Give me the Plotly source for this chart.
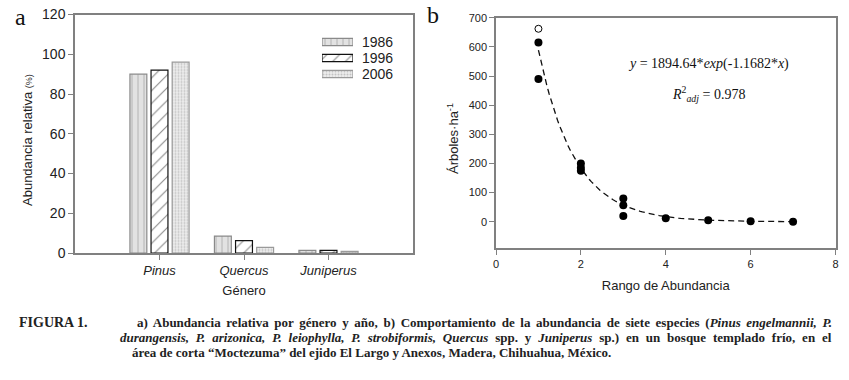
import numpy as np
import plotly.graph_objects as go

W, H = 849, 380

# ---- Panel a data ----
genera = ["Pinus", "Quercus", "Juniperus"]
years = ["1986", "1996", "2006"]
abund_1986 = [90.0, 8.5, 1.3]
abund_1996 = [92.0, 6.2, 1.3]
abund_2006 = [96.0, 2.8, 0.8]

# ---- Panel b data ----
rank_filled = [1, 1, 2, 2, 2, 3, 3, 3, 4, 5, 6, 7]
trees_filled = [615, 490, 200, 185, 175, 80, 57, 20, 12, 5, 2, 0]
rank_open = [1]
trees_open = [662]
fit_A = 1894.64
fit_B = -1.1682
fit_x = np.linspace(1, 7, 121)
fit_y = fit_A * np.exp(fit_B * fit_x)

def px(x):
    return x / W

def py(y):
    return 1 - y / H

SANS = "Liberation Sans, Arial, sans-serif"
SERIF = "Liberation Serif, Times New Roman, serif"
AXC = "#808080"

fig = go.Figure()

bar_styles = [
    dict(shape="|", fg="#8a8a8a", bg="#e2e2e2", size=6, sol=0.18, line="#8a8a8a"),
    dict(shape="/", fg="#111111", bg="#ffffff", size=9, sol=0.12, line="#111111"),
    dict(shape=".", fg="#9a9a9a", bg="#ececec", size=3, sol=0.35, line="#9a9a9a"),
]

def marker_for(st):
    return dict(color=st["bg"],
                line=dict(color=st["line"], width=1.2),
                pattern=dict(shape=st["shape"], fgcolor=st["fg"], bgcolor=st["bg"],
                             size=st["size"], solidity=st["sol"], fillmode="overlay"))

for yr, vals, st in zip(years, [abund_1986, abund_1996, abund_2006], bar_styles):
    fig.add_trace(go.Bar(
        x=genera, y=vals, name=yr, xaxis="x", yaxis="y", showlegend=False,
        marker=marker_for(st),
    ))

# legend swatches (wide rectangles, like the original legend)
for i, (yr, st) in enumerate(zip(years, bar_styles)):
    fig.add_trace(go.Bar(
        x=[1], y=[i], base=[0], orientation="h", xaxis="x3", yaxis="y3", showlegend=False,
        width=[0.46], offset=[-0.23], marker=marker_for(st), hoverinfo="skip", name=yr,
    ))

fig.add_trace(go.Scatter(
    x=fit_x, y=fit_y, mode="lines", xaxis="x2", yaxis="y2", showlegend=False,
    line=dict(color="#111111", width=1.3, dash="6px,4px"),
))
fig.add_trace(go.Scatter(
    x=rank_filled, y=trees_filled, mode="markers", xaxis="x2", yaxis="y2", showlegend=False,
    marker=dict(color="#000000", size=8, line=dict(color="#000000", width=0)),
))
fig.add_trace(go.Scatter(
    x=rank_open, y=trees_open, mode="markers", xaxis="x2", yaxis="y2", showlegend=False,
    marker=dict(color="#ffffff", size=7, line=dict(color="#000000", width=1)),
))

axis_common = dict(showline=True, mirror=True, linecolor=AXC, linewidth=1.5,
                   ticks="outside", ticklen=5, tickcolor=AXC, tickwidth=1.2,
                   showgrid=False, zeroline=False, automargin=False)

fig.update_layout(
    template="none",
    width=W, height=H,
    margin=dict(l=0, r=0, t=0, b=0, autoexpand=False),
    paper_bgcolor="white", plot_bgcolor="white",
    font=dict(family=SANS, color="#222222"),
    barmode="group", bargap=0.25, bargroupgap=0.2,
    showlegend=False,
    xaxis=dict(domain=[px(75), px(413)], type="category", range=[-1, 3],
               tickmode="array", tickvals=genera,
               ticktext=["<i>%s</i>" % g for g in genera],
               tickfont=dict(size=13), anchor="y",
               title=dict(text="Género", font=dict(size=13), standoff=9),
               **axis_common),
    yaxis=dict(domain=[py(253), py(14.5)], range=[0, 120], dtick=20,
               tickfont=dict(size=14), anchor="x",
               **axis_common),
    xaxis2=dict(domain=[px(496), px(835.5)], range=[0, 8], dtick=2,
                tickfont=dict(size=11), anchor="y2",
                title=dict(text="Rango de Abundancia", font=dict(size=13), standoff=12),
                **axis_common),
    yaxis2=dict(domain=[py(248), py(17.7)], range=[-90, 700], dtick=100,
                tickfont=dict(size=11), anchor="x2",
                **axis_common),
    xaxis3=dict(domain=[px(322), px(353)], range=[0, 1], visible=False,
                fixedrange=True, anchor="y3"),
    yaxis3=dict(domain=[py(82), py(34)], range=[2.5, -0.5], visible=False,
                fixedrange=True, anchor="x3"),
)

CAP = 13
annotations = [
    dict(x=px(20), y=py(17), text="a", font=dict(family=SERIF, size=24, color="#111111")),
    dict(x=px(433), y=py(15), text="b", font=dict(family=SERIF, size=24, color="#111111")),
    dict(x=px(27), y=py(140), textangle=-90,
         text="Abundancia relativa <span style='font-size:9px'>(%)</span>",
         font=dict(family=SANS, size=13, color="#222222")),
    dict(x=px(453), y=py(139), textangle=-90,
         text="Árboles·ha<sup>-1</sup>",
         font=dict(family=SANS, size=13, color="#222222")),
    dict(x=px(708), y=py(64),
         text="<i>y</i> = 1894.64*<i>exp</i>(-1.1682*<i>x</i>)",
         font=dict(family=SERIF, size=14, color="#111111")),
    dict(x=px(708), y=py(94),
         text="<i>R</i><sup>2</sup><sub><i>adj</i></sub> = 0.978",
         font=dict(family=SERIF, size=14, color="#111111")),
    dict(x=px(17), y=py(322), xanchor="left",
         text="<b>FIGURA 1.</b>",
         font=dict(family=SERIF, size=14, color="#222222")),
    dict(x=px(834), y=py(322), xanchor="right",
         text="<span style='word-spacing:2.4px'><b>a) Abundancia relativa por género y año, b) Comportamiento de la abundancia de siete especies (<i>Pinus engelmannii, P.</i></b></span>",
         font=dict(family=SERIF, size=CAP, color="#222222")),
    dict(x=px(834), y=py(337), xanchor="right",
         text="<span style='word-spacing:3.6px'><b><i>durangensis, P. arizonica, P. leiophylla, P. strobiformis, Quercus</i> spp. y <i>Juniperus</i> sp.) en un bosque templado frío, en el</b></span>",
         font=dict(family=SERIF, size=CAP, color="#222222")),
    dict(x=px(130), y=py(352), xanchor="left",
         text="<b>área de corta “Moctezuma” del ejido El Largo y Anexos, Madera, Chihuahua, México.</b>",
         font=dict(family=SERIF, size=CAP, color="#222222")),
]
# legend labels
for i, yr in enumerate(years):
    annotations.append(dict(x=1.0, y=i, xref="x3", yref="y3", xanchor="left",
                            xshift=7, text=yr,
                            font=dict(family=SANS, size=14, color="#222222")))
for a in annotations:
    a.setdefault("xref", "paper")
    a.setdefault("yref", "paper")
    a.setdefault("showarrow", False)
    a.setdefault("xanchor", "center")
    a.setdefault("yanchor", "middle")
fig.update_layout(annotations=annotations)

fig.write_html("out.html", config={"displayModeBar": False},
               post_script="document.body.style.margin='0';")
